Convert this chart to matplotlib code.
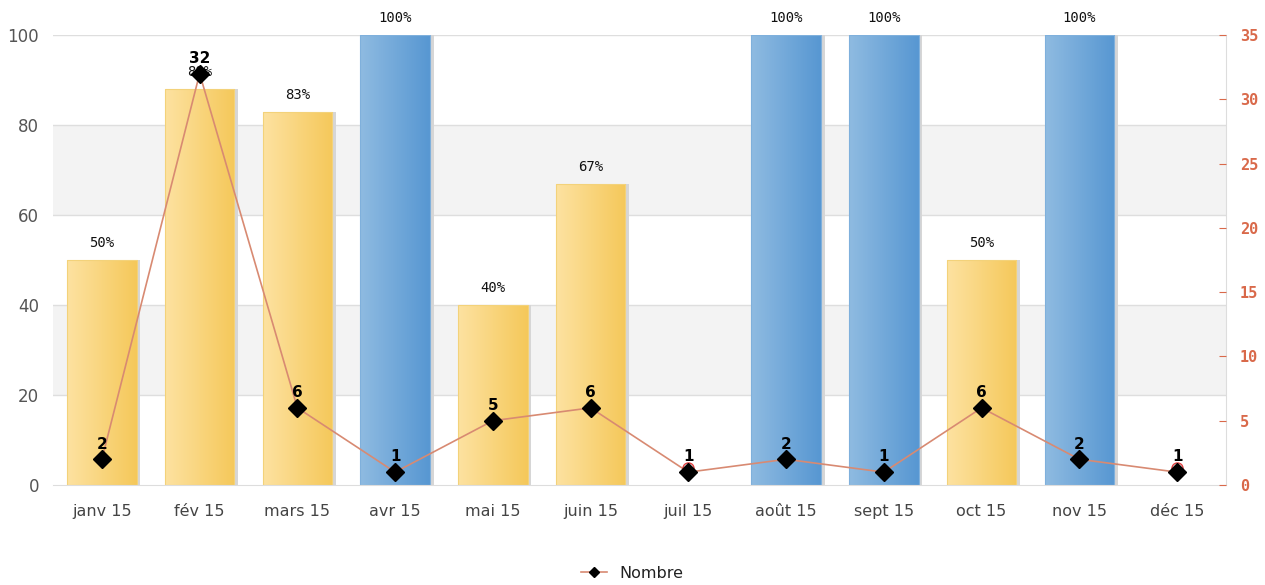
import matplotlib
matplotlib.use("Agg")
import matplotlib.pyplot as plt
import numpy as np
from matplotlib.colors import LinearSegmentedColormap
from matplotlib.lines import Line2D

plt.rcParams["font.family"] = ["DejaVu Sans"]

categories = ["janv 15", "fév 15", "mars 15", "avr 15", "mai 15", "juin 15",
              "juil 15", "août 15", "sept 15", "oct 15", "nov 15", "déc 15"]
pct = [50, 88, 83, 100, 40, 67, None, 100, 100, 50, 100, None]
nombre = [2, 32, 6, 1, 5, 6, 1, 2, 1, 6, 2, 1]
left_ticks = [0, 20, 40, 60, 80, 100]
right_ticks = [0, 5, 10, 15, 20, 25, 30, 35]

fig = plt.figure(figsize=(12.65, 5.85), dpi=100)
ax = fig.add_axes([53/1265, 100/585, (1226-53)/1265, 450/585])
ax.set_xlim(-0.5, len(categories) - 0.5)
ax.set_ylim(0, 100)

# alternating bands
for i, lo in enumerate(left_ticks[:-1]):
    hi = left_ticks[i + 1]
    if i % 2 == 1:
        ax.axhspan(lo, hi, color="#f3f3f3", zorder=0, lw=0)
for t in left_ticks[1:]:
    ax.axhline(t, color="#dedede", lw=1, zorder=0.5)

yellow = LinearSegmentedColormap.from_list("y", ["#fde2a1", "#f5c85a"])
blue = LinearSegmentedColormap.from_list("b", ["#8fbbe1", "#5797d2"])
grad = np.linspace(0, 1, 256).reshape(1, -1)
x = np.arange(len(categories))
bw = 0.71
for xi, v in zip(x, pct):
    if v is None:
        continue
    # shadow
    ax.bar(xi + 0.04, v, width=bw, color="#d6d6d6", zorder=1, lw=0)
    cmap = blue if v >= 100 else yellow
    b = ax.bar(xi, v, width=bw, color="none", zorder=2, lw=0.8,
               edgecolor="#f3d27a" if v < 100 else "#7fb0dc")[0]
    im = ax.imshow(grad, cmap=cmap, aspect="auto", zorder=1.5,
                   extent=[xi - bw/2, xi + bw/2, 0, v], interpolation="bilinear")
    im.set_clip_path(b)
    ax.text(xi, v + 2.2, f"{v}%", ha="center", va="bottom", fontsize=10,
            family="DejaVu Sans Mono", color="#111111", zorder=3)

ax.set_xticks(x)
ax.set_xticklabels(categories, fontsize=11.5, color="#444444")
ax.set_yticks(left_ticks)
ax.set_yticklabels([str(t) for t in left_ticks], fontsize=12, color="#555555")
ax.tick_params(axis="x", length=0, pad=14)
ax.tick_params(axis="y", length=0, pad=10)
for s in ["top", "left"]:
    ax.spines[s].set_visible(False)
for s in ["bottom", "right"]:
    ax.spines[s].set_color("#dddddd")

ax2 = ax.twinx()
ax2.set_ylim(0, 35)
ax2.set_yticks(right_ticks)
ax2.set_yticklabels([str(t) for t in right_ticks], fontsize=11, color="#d9694a",
                    family="DejaVu Sans Mono", fontweight="bold")
ax2.tick_params(axis="y", direction="in", length=5, color="#d9694a", pad=10)
for s in ax2.spines.values():
    s.set_visible(False)

ax2.plot(x, nombre, color="#d88a72", lw=1.2, zorder=4)
miss = [i for i, v in enumerate(pct) if v is None]
ax2.plot([x[i] for i in miss], [nombre[i] + 0.3 for i in miss], ls="none",
         marker="o", ms=8, markerfacecolor="none", markeredgecolor="#e04040",
         markeredgewidth=1, zorder=4.5)
ax2.plot(x, nombre, ls="none", marker="D", ms=9, color="black", zorder=5)
for xi, v in zip(x, nombre):
    ax2.text(xi, v + 0.6, str(v), ha="center", va="bottom", fontsize=11,
             fontweight="bold", color="black", zorder=6)

handle = Line2D([], [], color="#d88a72", lw=1.2, marker="D", ms=5,
                markerfacecolor="black", markeredgecolor="black")
fig.legend([handle], ["Nombre"], loc="center", bbox_to_anchor=(0.5, 12/585),
           frameon=False, fontsize=11.5, handlelength=1.6, labelcolor="#222222")

fig.savefig("out.png", dpi=100)
